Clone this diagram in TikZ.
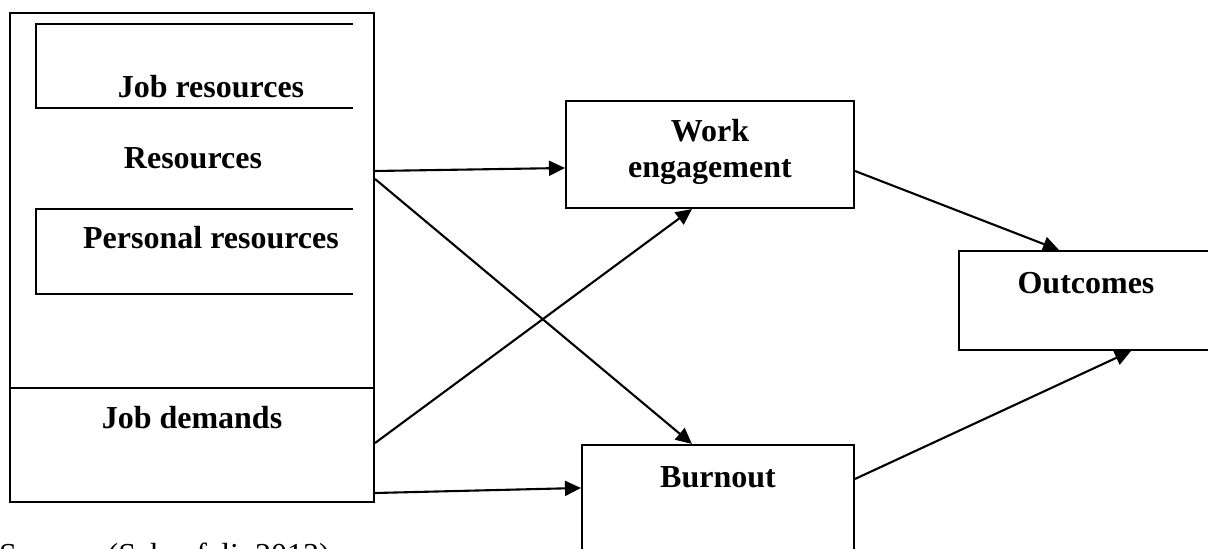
\documentclass[tikz,border=0pt]{standalone}
\usepackage{fontspec}
\setmainfont{Liberation Serif}
\usetikzlibrary{arrows.meta}
\def\LineW{2.1pt}
\def\TxtSize{\fontsize{32}{36}\selectfont}
\tikzset{
  box/.style={draw, line width=\LineW, rectangle, inner sep=0pt},
  lbl/.style={font=\TxtSize\bfseries, inner sep=0pt, align=center},
  conn/.style={line width=\LineW, -{Triangle[length=16pt,width=15pt]}},
}

\begin{document}
\begin{tikzpicture}[x=1pt,y=-1pt]
\useasboundingbox (0,0) rectangle (1208,549);
% left column
\node[box, minimum width=364pt, minimum height=375pt] (res) at (192,200.5) {};
\node[box, minimum width=364pt, minimum height=114pt] (dem) at (192,445) {};
\draw[line width=\LineW] (353,24) -- (36,24) -- (36,108) -- (353,108);
\draw[line width=\LineW] (353,209) -- (36,209) -- (36,294) -- (353,294);
\node[lbl, anchor=base] (jobres) at (211,97) {Job resources};
\node[lbl, anchor=base] (reslbl) at (193,168) {Resources};
\node[lbl, anchor=base] (persres) at (211,248) {Personal resources};
\node[lbl, anchor=base] (demlbl) at (192,428) {Job demands};
% middle and right
\node[box, minimum width=288pt, minimum height=107pt] (weng) at (710,154.5) {};
\node[box, minimum width=272pt, minimum height=120pt] (burn) at (718,505) {};
\node[box, minimum width=271pt, minimum height=99pt] (outc) at (1094.5,300.5) {};
\node[lbl, anchor=north] (wenglbl) at (710,119) {Work\\engagement};
\node[lbl, anchor=base] (burnlbl) at (718,487) {Burnout};
\node[lbl, anchor=base] (outclbl) at (1086,293) {Outcomes};
\node[font=\TxtSize, inner sep=0pt, anchor=base west] (src) at (-1,565) {Source: (Schaufeli, 2013)};
% connectors
\draw[conn] ([yshift=29.5pt]res.east) -- ([yshift=-13.5pt]weng.west);
\draw[conn] ([yshift=21.5pt]res.east) -- ([xshift=111pt]burn.north west);
\draw[conn] ([yshift=2pt]dem.east) -- ([xshift=127pt]weng.south west);
\draw[conn] ([yshift=-48pt]dem.east) -- ([yshift=-44pt]burn.north west);
\draw[conn] ([yshift=-16.5pt]weng.east) -- ([xshift=101pt]outc.north west);
\draw[conn] ([yshift=-35pt]burn.north east) -- ([xshift=173pt]outc.south west);
\end{tikzpicture}
\end{document}
